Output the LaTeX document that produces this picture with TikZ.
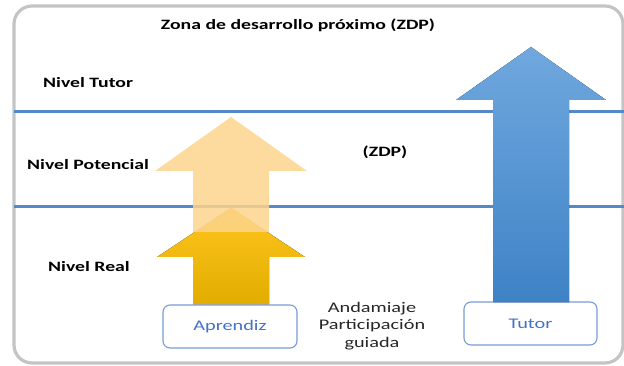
\documentclass[tikz,border=0pt]{standalone}
\usepackage{fontspec}
\setmainfont{Carlito}[FakeStretch=1.38]
\definecolor{framegray}{RGB}{196,196,196}
\definecolor{lineblue}{RGB}{84,136,198}
\definecolor{boxblue}{RGB}{120,155,215}
\definecolor{textblue}{RGB}{68,114,196}
\definecolor{lightorange}{RGB}{253,212,140}
\definecolor{darkorangetop}{RGB}{255,198,30}
\definecolor{darkorangebot}{RGB}{226,172,0}
\definecolor{bluetop}{RGB}{112,168,222}
\definecolor{bluebot}{RGB}{62,130,198}
\definecolor{txtgray}{RGB}{38,38,38}
\tikzset{
  frame/.style={draw=framegray, line width=3.2pt, rounded corners=18pt},
  hline/.style={draw=lineblue, line width=3pt},
  lvl/.style={font=\fontsize{14.3}{16}\selectfont\bfseries, text=black, inner sep=0pt},
  boxnode/.style={draw=boxblue, line width=1.1pt, rounded corners=7pt, fill=white,
    text=textblue, font=\fontsize{14.7}{17}\selectfont, inner sep=0pt},
  plain/.style={font=\fontsize{14.7}{17.5}\selectfont, text=txtgray, inner sep=0pt, align=center}
}
\begin{document}
\begin{tikzpicture}[x=1pt,y=-1pt]
\useasboundingbox (0,0) rectangle (624,366);
% frame
\draw[frame] (14,6) rectangle (623,363);
% level lines
\draw[hline] (14,112) -- (624,112);
\draw[hline] (14,207) -- (624,207);
% boxes
\node[boxnode, minimum width=134pt, minimum height=43pt] (aprendiz) at (230,326.5) {Aprendiz};
\node[boxnode, minimum width=133pt, minimum height=43pt] (tutor) at (530.5,323.5) {Tutor};
% real level arrow
\fill[top color=darkorangetop, bottom color=darkorangebot]
  (193,304) -- (193,257) -- (157,257) -- (231,208) -- (305,257) -- (269,257) -- (269,304) -- cycle;
% potential level arrow
\fill[lightorange, fill opacity=0.85]
  (193,232) -- (193,171) -- (155,171) -- (231,117) -- (307,171) -- (269,171) -- (269,232) -- cycle;
% tutor arrow
\fill[top color=bluetop, bottom color=bluebot]
  (493,302) -- (493,100) -- (456,100) -- (531,47) -- (606,100) -- (569,100) -- (569,302) -- cycle;
% texts
\node[lvl] (title) at (298,25) {Zona de desarrollo próximo (ZDP)};
\node[lvl, anchor=west] (ntutor) at (43,83) {Nivel Tutor};
\node[lvl, anchor=west] (npot) at (27,165) {Nivel Potencial};
\node[lvl, anchor=west] (nreal) at (48,267) {Nivel Real};
\node[lvl] (zdp) at (385,152) {(ZDP)};
\node[plain] (anda) at (372,326) {Andamiaje\\Participación\\guiada};
\end{tikzpicture}
\end{document}
